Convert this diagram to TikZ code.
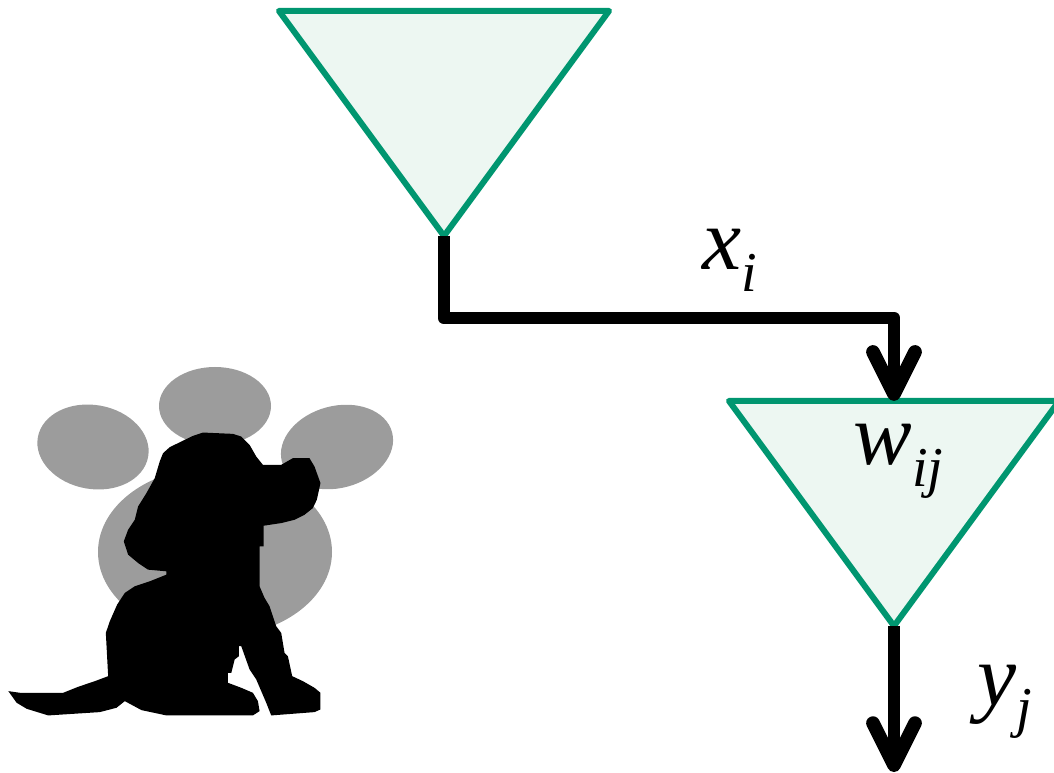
\documentclass[tikz,border=0pt]{standalone}
\usepackage{fontspec}
\setmainfont{Liberation Serif}
\usetikzlibrary{arrows.meta,positioning,shapes.geometric}
\definecolor{synapsegreen}{RGB}{0,150,112}
\definecolor{synapsefill}{RGB}{237,247,242}
\definecolor{shadowgray}{RGB}{156,156,156}
\newcommand{\symb}[2]{\fontsize{25}{25}\selectfont\itshape #1\raisebox{-6pt}{\fontsize{16}{16}\selectfont #2}}

\begin{document}
\begin{tikzpicture}[x=0.01cm,y=-0.01cm,
  neuron/.style={isosceles triangle,isosceles triangle stretches,shape border rotate=270,
                 draw=synapsegreen,fill=synapsefill,line width=1.7pt,line join=round,
                 minimum width=3.3cm,minimum height=2.25cm,inner sep=0pt,outer sep=0pt,anchor=apex},
  wire/.style={line width=3.6pt,line join=round},
  signal/.style={wire,-{Straight Barb[length=0.42cm,width=0.42cm,round,line width=3.9pt]}},
  lbl/.style={inner sep=0pt,anchor=base west}
]
  \useasboundingbox (0,0) rectangle (1054,773);
  % thought bubbles
  \fill[shadowgray,rotate around={-10:(93,447)}] (93,447) ellipse [x radius=56,y radius=42];
  \fill[shadowgray] (215,406) ellipse [x radius=56,y radius=39];
  \fill[shadowgray,rotate around={15:(337,447)}] (337,447) ellipse [x radius=57,y radius=41];
  \fill[shadowgray] (215,552) ellipse [x radius=117,y radius=85];
  % dog
  \begin{scope}[shift={(0,360)},x=0.003333cm,y=-0.003333cm]
    \fill[black] (610,218) -- (700,222) -- (725,230) -- (750,255) -- (770,290) -- (790,315)
      -- (845,315) -- (880,295) -- (930,295) -- (945,320) -- (963,370) -- (952,420) -- (940,445)
      -- (915,465) -- (885,480) -- (845,490) -- (792,498) -- (792,560) -- (780,560) -- (780,680)
      -- (795,715) -- (810,740) -- (830,800) -- (845,820) -- (855,880) -- (865,890) -- (878,950)
      -- (910,965) -- (945,985) -- (963,1000) -- (963,1050) -- (945,1058) -- (815,1068)
      -- (800,1030) -- (770,960) -- (750,930) -- (725,860) -- (718,860) -- (718,890) -- (705,900)
      -- (695,940) -- (685,940) -- (685,970) -- (725,985) -- (760,1000) -- (775,1025) -- (780,1055)
      -- (760,1068) -- (500,1068) -- (425,1052) -- (375,1025) -- (350,1045) -- (300,1058)
      -- (145,1068) -- (80,1048) -- (50,1030) -- (25,995) -- (60,1000) -- (190,1000) -- (235,982)
      -- (285,965) -- (325,950) -- (318,820) -- (330,785) -- (352,735) -- (375,700) -- (405,680)
      -- (450,665) -- (500,645) -- (500,635) -- (445,630) -- (415,610) -- (385,585) -- (372,545)
      -- (385,510) -- (405,480) -- (415,440) -- (440,400) -- (465,355) -- (480,305) -- (490,280)
      -- (510,262) -- (555,240) -- (580,228) -- cycle;
  \end{scope}
  % neurons
  \node[neuron] (pre) at (444,236) {};
  \node[neuron] (post) at (894,626) {};
  \coordinate (bend) at (444,318);
  \coordinate (out) at (894,772);
  \draw[signal] (pre.apex) -- (bend) -- (bend -| post.apex) -- (post.north);
  \draw[signal] (post.apex) -- (out);
  % labels
  \node[lbl] (xlbl) at (702,270) {\symb{x}{i}};
  \node[lbl] (wlbl) at (853,465) {\symb{w}{ij}};
  \node[lbl] (ylbl) at (977,705) {\symb{y}{j}};
\end{tikzpicture}
\end{document}
